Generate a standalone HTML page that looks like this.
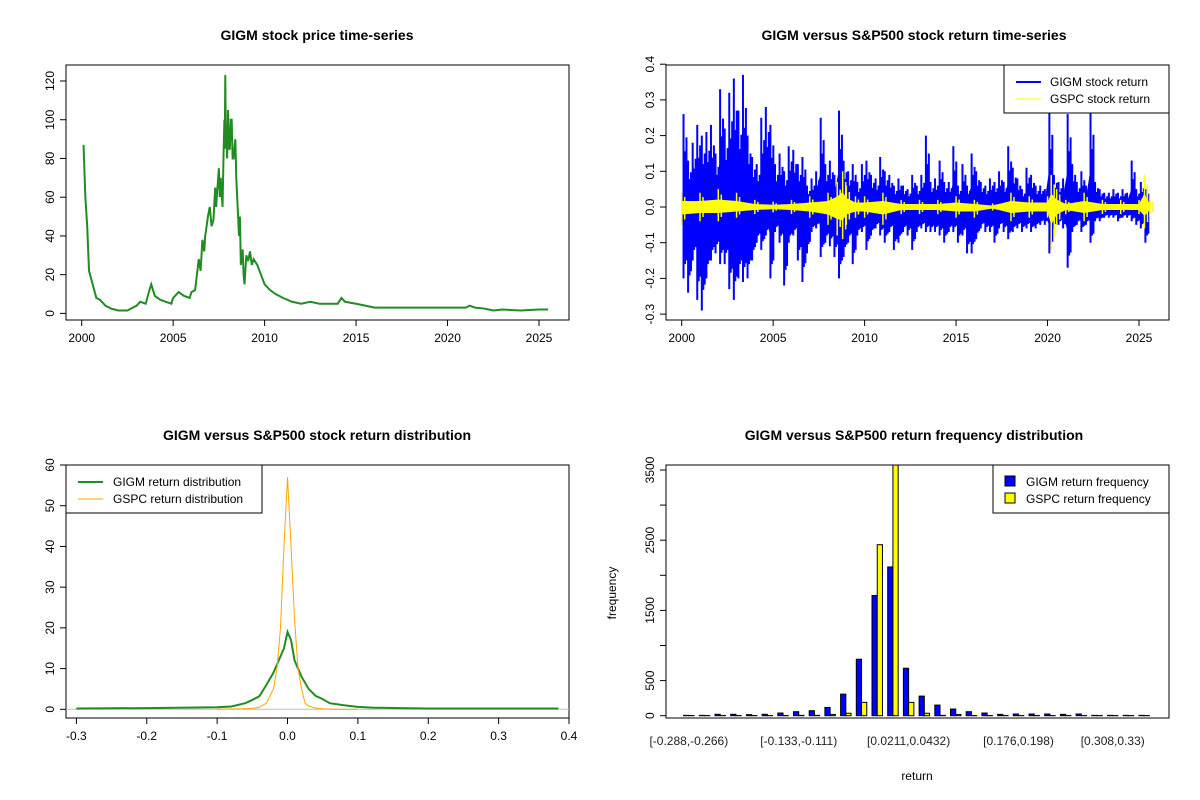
<!DOCTYPE html>
<html><head><meta charset="utf-8"><style>
body{margin:0;background:#fff}
svg{display:block;font-family:"Liberation Sans",Arial,sans-serif}
</style></head><body>
<svg id="c" width="1200" height="800" viewBox="0 0 1200 800"></svg>
<script>
// ---------- data ----------
const priceYears=[2000.1,2000.2,2000.3,2000.4,2000.6,2000.8,2001,2001.3,2001.6,2002,2002.5,2003,2003.2,2003.5,2003.7,2003.8,2004,2004.3,2004.6,2004.9,2005,2005.3,2005.6,2005.9,2006,2006.2,2006.4,2006.5,2006.6,2006.7,2006.75,2006.8,2006.9,2007,2007.1,2007.2,2007.3,2007.35,2007.4,2007.5,2007.55,2007.6,2007.7,2007.75,2007.8,2007.82,2007.85,2007.88,2007.9,2007.95,2008,2008.05,2008.1,2008.15,2008.2,2008.25,2008.3,2008.4,2008.45,2008.5,2008.6,2008.65,2008.7,2008.8,2008.85,2008.9,2009,2009.1,2009.2,2009.3,2009.4,2009.6,2009.8,2010,2010.3,2010.6,2011,2011.5,2012,2012.5,2013,2013.5,2014,2014.2,2014.4,2015,2015.5,2016,2017,2018,2019,2020,2021,2021.2,2021.5,2022,2022.5,2023,2024,2025,2025.5];
const priceValues=[87,60,45,22,15,8,7,4,2.5,1.5,1.5,4,6,5,12,15,9,7,6,5,8,11,9,8,11,12,28,22,38,32,40,43,50,55,45,48,65,55,62,75,60,70,55,80,100,85,123,90,95,80,105,85,85,100,100,80,80,90,70,60,40,50,25,33,20,15,30,27,32,25,28,25,20,15,12,10,8,6,5,6,5,5,5,8,6,5,4,3,3,3,3,3,3,4,3,2.5,1.5,2,1.5,2,2];
const retStart=2000.1, retStep=0.25;
const gigmHi=[0.26,0.13,0.18,0.23,0.2,0.21,0.23,0.15,0.33,0.22,0.32,0.36,0.27,0.37,0.2,0.14,0.12,0.25,0.28,0.23,0.12,0.15,0.1,0.17,0.16,0.12,0.14,0.06,0.08,0.1,0.25,0.12,0.13,0.09,0.27,0.13,0.1,0.12,0.07,0.12,0.13,0.09,0.08,0.14,0.1,0.09,0.06,0.08,0.06,0.05,0.09,0.06,0.09,0.2,0.07,0.08,0.13,0.07,0.07,0.17,0.06,0.12,0.06,0.15,0.1,0.07,0.06,0.08,0.07,0.1,0.07,0.17,0.11,0.08,0.05,0.11,0.09,0.06,0.06,0.05,0.27,0.09,0.07,0.08,0.26,0.12,0.07,0.1,0.06,0.27,0.07,0.05,0.04,0.04,0.05,0.04,0.05,0.04,0.13,0.05,0.07,0.05];
const gigmLo=[-0.2,-0.24,-0.15,-0.26,-0.29,-0.2,-0.15,-0.13,-0.16,-0.16,-0.23,-0.26,-0.2,-0.21,-0.2,-0.15,-0.1,-0.12,-0.08,-0.2,-0.07,-0.1,-0.22,-0.1,-0.08,-0.15,-0.21,-0.13,-0.07,-0.06,-0.14,-0.1,-0.11,-0.14,-0.2,-0.14,-0.1,-0.16,-0.08,-0.07,-0.12,-0.08,-0.06,-0.08,-0.1,-0.07,-0.12,-0.1,-0.07,-0.08,-0.12,-0.07,-0.06,-0.07,-0.07,-0.07,-0.08,-0.1,-0.07,-0.07,-0.1,-0.08,-0.13,-0.13,-0.09,-0.06,-0.07,-0.07,-0.1,-0.06,-0.07,-0.09,-0.07,-0.06,-0.07,-0.06,-0.07,-0.06,-0.05,-0.05,-0.13,-0.06,-0.05,-0.06,-0.17,-0.07,-0.05,-0.07,-0.05,-0.1,-0.04,-0.04,-0.03,-0.03,-0.03,-0.04,-0.03,-0.03,-0.04,-0.05,-0.06,-0.1];
const gspcYears=[2000,2001,2002,2003,2004,2005,2006,2007,2008,2008.5,2008.8,2009,2009.5,2010,2011,2012,2013,2014,2015,2016,2017,2018,2019,2020,2020.2,2020.5,2021,2022,2023,2024,2025,2025.3,2025.6];
const gspcHi=[0.04,0.04,0.05,0.04,0.02,0.015,0.02,0.03,0.04,0.07,0.1,0.06,0.03,0.03,0.04,0.02,0.02,0.02,0.03,0.02,0.01,0.04,0.03,0.03,0.09,0.05,0.02,0.04,0.02,0.02,0.02,0.09,0.02];
const gspcLo=[-0.05,-0.04,-0.04,-0.03,-0.02,-0.015,-0.02,-0.03,-0.05,-0.08,-0.09,-0.05,-0.03,-0.03,-0.05,-0.02,-0.02,-0.02,-0.03,-0.03,-0.01,-0.04,-0.03,-0.03,-0.12,-0.05,-0.02,-0.04,-0.02,-0.02,-0.02,-0.06,-0.02];
const densGigmX=[-0.3,-0.2,-0.1,-0.08,-0.06,-0.05,-0.04,-0.03,-0.02,-0.01,-0.005,0,0.005,0.01,0.02,0.03,0.04,0.05,0.06,0.08,0.1,0.12,0.16,0.2,0.385];
const densGigmY=[0.2,0.3,0.5,0.7,1.5,2.3,3.2,6,9,13,15,19,17,12,8,5,3.3,2.5,1.5,1,0.6,0.4,0.3,0.2,0.2];
const densGspcX=[-0.1,-0.05,-0.04,-0.03,-0.02,-0.015,-0.01,-0.005,0,0.005,0.01,0.015,0.02,0.025,0.03,0.04,0.05,0.07,0.1];
const densGspcY=[0,0.2,0.5,1.5,5,10,20,40,57,40,22,10,5,1.5,0.8,0.3,0.1,0,0];
const histGigm=[5,5,20,20,15,20,38,57,71,118,307,804,1712,2119,676,279,151,95,57,38,19,24,24,24,19,24,5,5,5,5];
const histGspc=[2,2,2,2,2,2,2,5,5,18,35,190,2436,3900,190,35,5,18,3,2,2,2,2,2,2,2,2,2,2,2];
const histLabels=["[-0.288,-0.266)","[-0.133,-0.111)","[0.0211,0.0432)","[0.176,0.198)","[0.308,0.33)"];
const histLabelIdx=[0,7,14,21,27];

// ---------- helpers ----------
const svg=document.getElementById('c');
const NS='http://www.w3.org/2000/svg';
function mk(tag,attrs,parent){const e=document.createElementNS(NS,tag);for(const k in attrs)e.setAttribute(k,attrs[k]);(parent||svg).appendChild(e);return e;}
function txt(s,x,y,opt,parent){const e=mk('text',Object.assign({x:x,y:y,'font-size':12,'text-anchor':'middle',fill:'#000'},opt||{}),parent);e.textContent=s;return e;}
function lin(a0,a1,b0,b1){return v=>b0+(v-a0)*(b1-b0)/(a1-a0);}
const L=[66,569],R=[666,1169],TOP=[65,320],BOT=[465,718];

function frame(x0,x1,y0,y1,name){const g=mk('g',{});
 mk('rect',{x:x0,y:y0,width:x1-x0,height:y1-y0,fill:'none',stroke:'#000','stroke-width':1},g);return g;}
function title(s,x,y,name){const t=txt(s,x,y,{'font-size':14,'font-weight':'bold'});}
function yAxis(vals,labels,sy,x0,name){const g=mk('g',{});
 mk('line',{x1:x0,x2:x0,y1:sy(vals[0]),y2:sy(vals[vals.length-1]),stroke:'#000'},g);
 vals.forEach((v,i)=>{const y=sy(v);mk('line',{x1:x0-6,x2:x0,y1:y,y2:y,stroke:'#000'},g);
  if(labels[i]!==''){const t=txt(labels[i],x0-12,y,{transform:`rotate(-90 ${x0-12} ${y})`},g);}});}
function xAxis(vals,labels,sx,y0,name){const g=mk('g',{});
 mk('line',{x1:sx(vals[0]),x2:sx(vals[vals.length-1]),y1:y0,y2:y0,stroke:'#000'},g);
 vals.forEach((v,i)=>{const x=sx(v);mk('line',{x1:x,x2:x,y1:y0,y2:y0+6,stroke:'#000'},g);txt(labels[i],x,y0+22,{},g);});}

// ---------- Panel 1: price ----------
title('GIGM stock price time-series',317,40,'price-title');
frame(L[0],L[1],TOP[0],TOP[1],'price-plot-frame');
const sx1=lin(2000,2025,81.7,539),sy1=lin(0,120,313.4,81);
xAxis([2000,2005,2010,2015,2020,2025],['2000','2005','2010','2015','2020','2025'],sx1,TOP[1],'price-x-axis');
yAxis([0,20,40,60,80,100,120],['0','20','40','60','80','100','120'],sy1,L[0],'price-y-axis');
const pl=mk('polyline',{points:priceYears.map((t,i)=>sx1(t)+','+sy1(priceValues[i])).join(' '),fill:'none',stroke:'#228B22','stroke-width':2});



// ---------- Panel 2: returns ----------
title('GIGM versus S&P500 stock return time-series',914,40,'returns-title');
frame(R[0],R[1],TOP[0],TOP[1],'returns-plot-frame');
const sx2=lin(2000,2025,681.7,1139),sy2=lin(0,0.1,207,171.3);
xAxis([2000,2005,2010,2015,2020,2025],['2000','2005','2010','2015','2020','2025'],sx2,TOP[1],'returns-x-axis');
yAxis([-0.3,-0.2,-0.1,0,0.1,0.2,0.3,0.4],['-0.3','-0.2','-0.1','0.0','0.1','0.2','0.3','0.4'],sy2,R[0],'returns-y-axis');
const gBlue=mk('g',{stroke:'#0000FF','stroke-width':2,fill:'#0000FF'});


let up=[],dn=[];
gigmHi.forEach((h,i)=>{const t=retStart+i*retStep;up.push(sx2(t)+','+sy2(h*0.4));dn.unshift(sx2(t)+','+sy2(gigmLo[i]*0.4));});
mk('polygon',{points:up.concat(dn).join(' '),stroke:'none'},gBlue);
gigmHi.forEach((h,i)=>{const t=retStart+i*retStep;
 [0,0.08,0.16].forEach((o,j)=>{const f=[1,0.6,0.75][j];const x=sx2(t+o);
  mk('line',{x1:x,x2:x,y1:sy2(gigmLo[i]*(j==1?0.8:f)),y2:sy2(h*f)},gBlue);});});
const gY=mk('g',{fill:'#FFFF00',stroke:'#FFFF00','stroke-width':1.5});


let yu=[],yd=[];
gspcYears.forEach((t,i)=>{yu.push(sx2(t)+','+sy2(gspcHi[i]*0.42));yd.unshift(sx2(t)+','+sy2(gspcLo[i]*0.42));});
mk('polygon',{points:yu.concat(yd).join(' '),stroke:'none'},gY);
gspcYears.forEach((t,i)=>{const x=sx2(t);mk('line',{x1:x,x2:x,y1:sy2(gspcLo[i]),y2:sy2(gspcHi[i])},gY);
 mk('line',{x1:x+3,x2:x+3,y1:sy2(gspcLo[i]*0.7),y2:sy2(gspcHi[i]*0.7)},gY);});
const lg2=mk('g',{});
mk('rect',{x:1004,y:65,width:165,height:48,fill:'#fff',stroke:'#000'},lg2);
mk('line',{x1:1016,x2:1041,y1:82,y2:82,stroke:'#0000FF','stroke-width':2},lg2);
mk('line',{x1:1016,x2:1041,y1:99,y2:99,stroke:'#FFFF00','stroke-width':1},lg2);
txt('GIGM stock return',1050,86,{'text-anchor':'start'},lg2);
txt('GSPC stock return',1050,103,{'text-anchor':'start'},lg2);

// ---------- Panel 3: density ----------
title('GIGM versus S&P500 stock return distribution',317,440,'density-title');
frame(L[0],L[1],BOT[0],BOT[1],'density-plot-frame');
const sx3=lin(-0.3,0.4,76.4,569),sy3=lin(0,60,709.3,465);
xAxis([-0.3,-0.2,-0.1,0,0.1,0.2,0.3,0.4],['-0.3','-0.2','-0.1','0.0','0.1','0.2','0.3','0.4'],sx3,BOT[1],'density-x-axis');
yAxis([0,10,20,30,40,50,60],['0','10','20','30','40','50','60'],sy3,L[0],'density-y-axis');
mk('line',{x1:L[0],x2:L[1],y1:sy3(0),y2:sy3(0),stroke:'#BEBEBE'});
const dg=mk('polyline',{points:densGigmX.map((v,i)=>sx3(v)+','+sy3(densGigmY[i])).join(' '),fill:'none',stroke:'#228B22','stroke-width':2});


const ds=mk('polyline',{points:densGspcX.map((v,i)=>sx3(v)+','+sy3(densGspcY[i])).join(' '),fill:'none',stroke:'#FFA500','stroke-width':1});


const lg3=mk('g',{});
mk('rect',{x:66,y:465,width:196,height:48,fill:'#fff',stroke:'#000'},lg3);
mk('line',{x1:78,x2:103,y1:482,y2:482,stroke:'#228B22','stroke-width':2},lg3);
mk('line',{x1:78,x2:103,y1:499,y2:499,stroke:'#FFA500','stroke-width':1},lg3);
txt('GIGM return distribution',113,486,{'text-anchor':'start'},lg3);
txt('GSPC return distribution',113,503,{'text-anchor':'start'},lg3);

// ---------- Panel 4: histogram ----------
title('GIGM versus S&P500 return frequency distribution',914,440,'histogram-title');
const sy4=lin(0,3500,715.7,470);
const clip=mk('clipPath',{id:'hc'});mk('rect',{x:R[0],y:BOT[0],width:R[1]-R[0],height:BOT[1]-BOT[0]},clip);
const gh=mk('g',{'clip-path':'url(#hc)'});
const bw=5.23,pitch=15.7,x04=683.6;
histGigm.forEach((v,i)=>{const x=x04+i*pitch;
 const b=mk('rect',{x:x,y:sy4(v),width:bw,height:sy4(0)-sy4(v),fill:'#0000FF',stroke:'#000','stroke-width':1},gh);
 
 
 const w=histGspc[i];
 const c=mk('rect',{x:x+bw,y:sy4(w),width:bw,height:sy4(0)-sy4(w),fill:'#FFFF00',stroke:'#000','stroke-width':1},gh);
 
 });
frame(R[0],R[1],BOT[0],BOT[1],'histogram-plot-frame');
yAxis([0,500,1000,1500,2000,2500,3000,3500],['0','500','','1500','','2500','','3500'],sy4,R[0],'histogram-y-axis');
const gx4=mk('g',{});
histLabelIdx.forEach((k,j)=>{txt(histLabels[j],x04+k*pitch+bw,745,{fill:'#222'},gx4);});
const xt=txt('return',917,780,{});
const yt=txt('frequency',616,593,{transform:'rotate(-90 616 593)'});
const lg4=mk('g',{});
mk('rect',{x:993,y:465,width:176,height:48,fill:'#fff',stroke:'#000'},lg4);
mk('rect',{x:1005,y:476,width:10,height:10,fill:'#0000FF',stroke:'#000'},lg4);
mk('rect',{x:1005,y:493,width:10,height:10,fill:'#FFFF00',stroke:'#000'},lg4);
txt('GIGM return frequency',1026,486,{'text-anchor':'start'},lg4);
txt('GSPC return frequency',1026,503,{'text-anchor':'start'},lg4);
</script>
</body></html>
